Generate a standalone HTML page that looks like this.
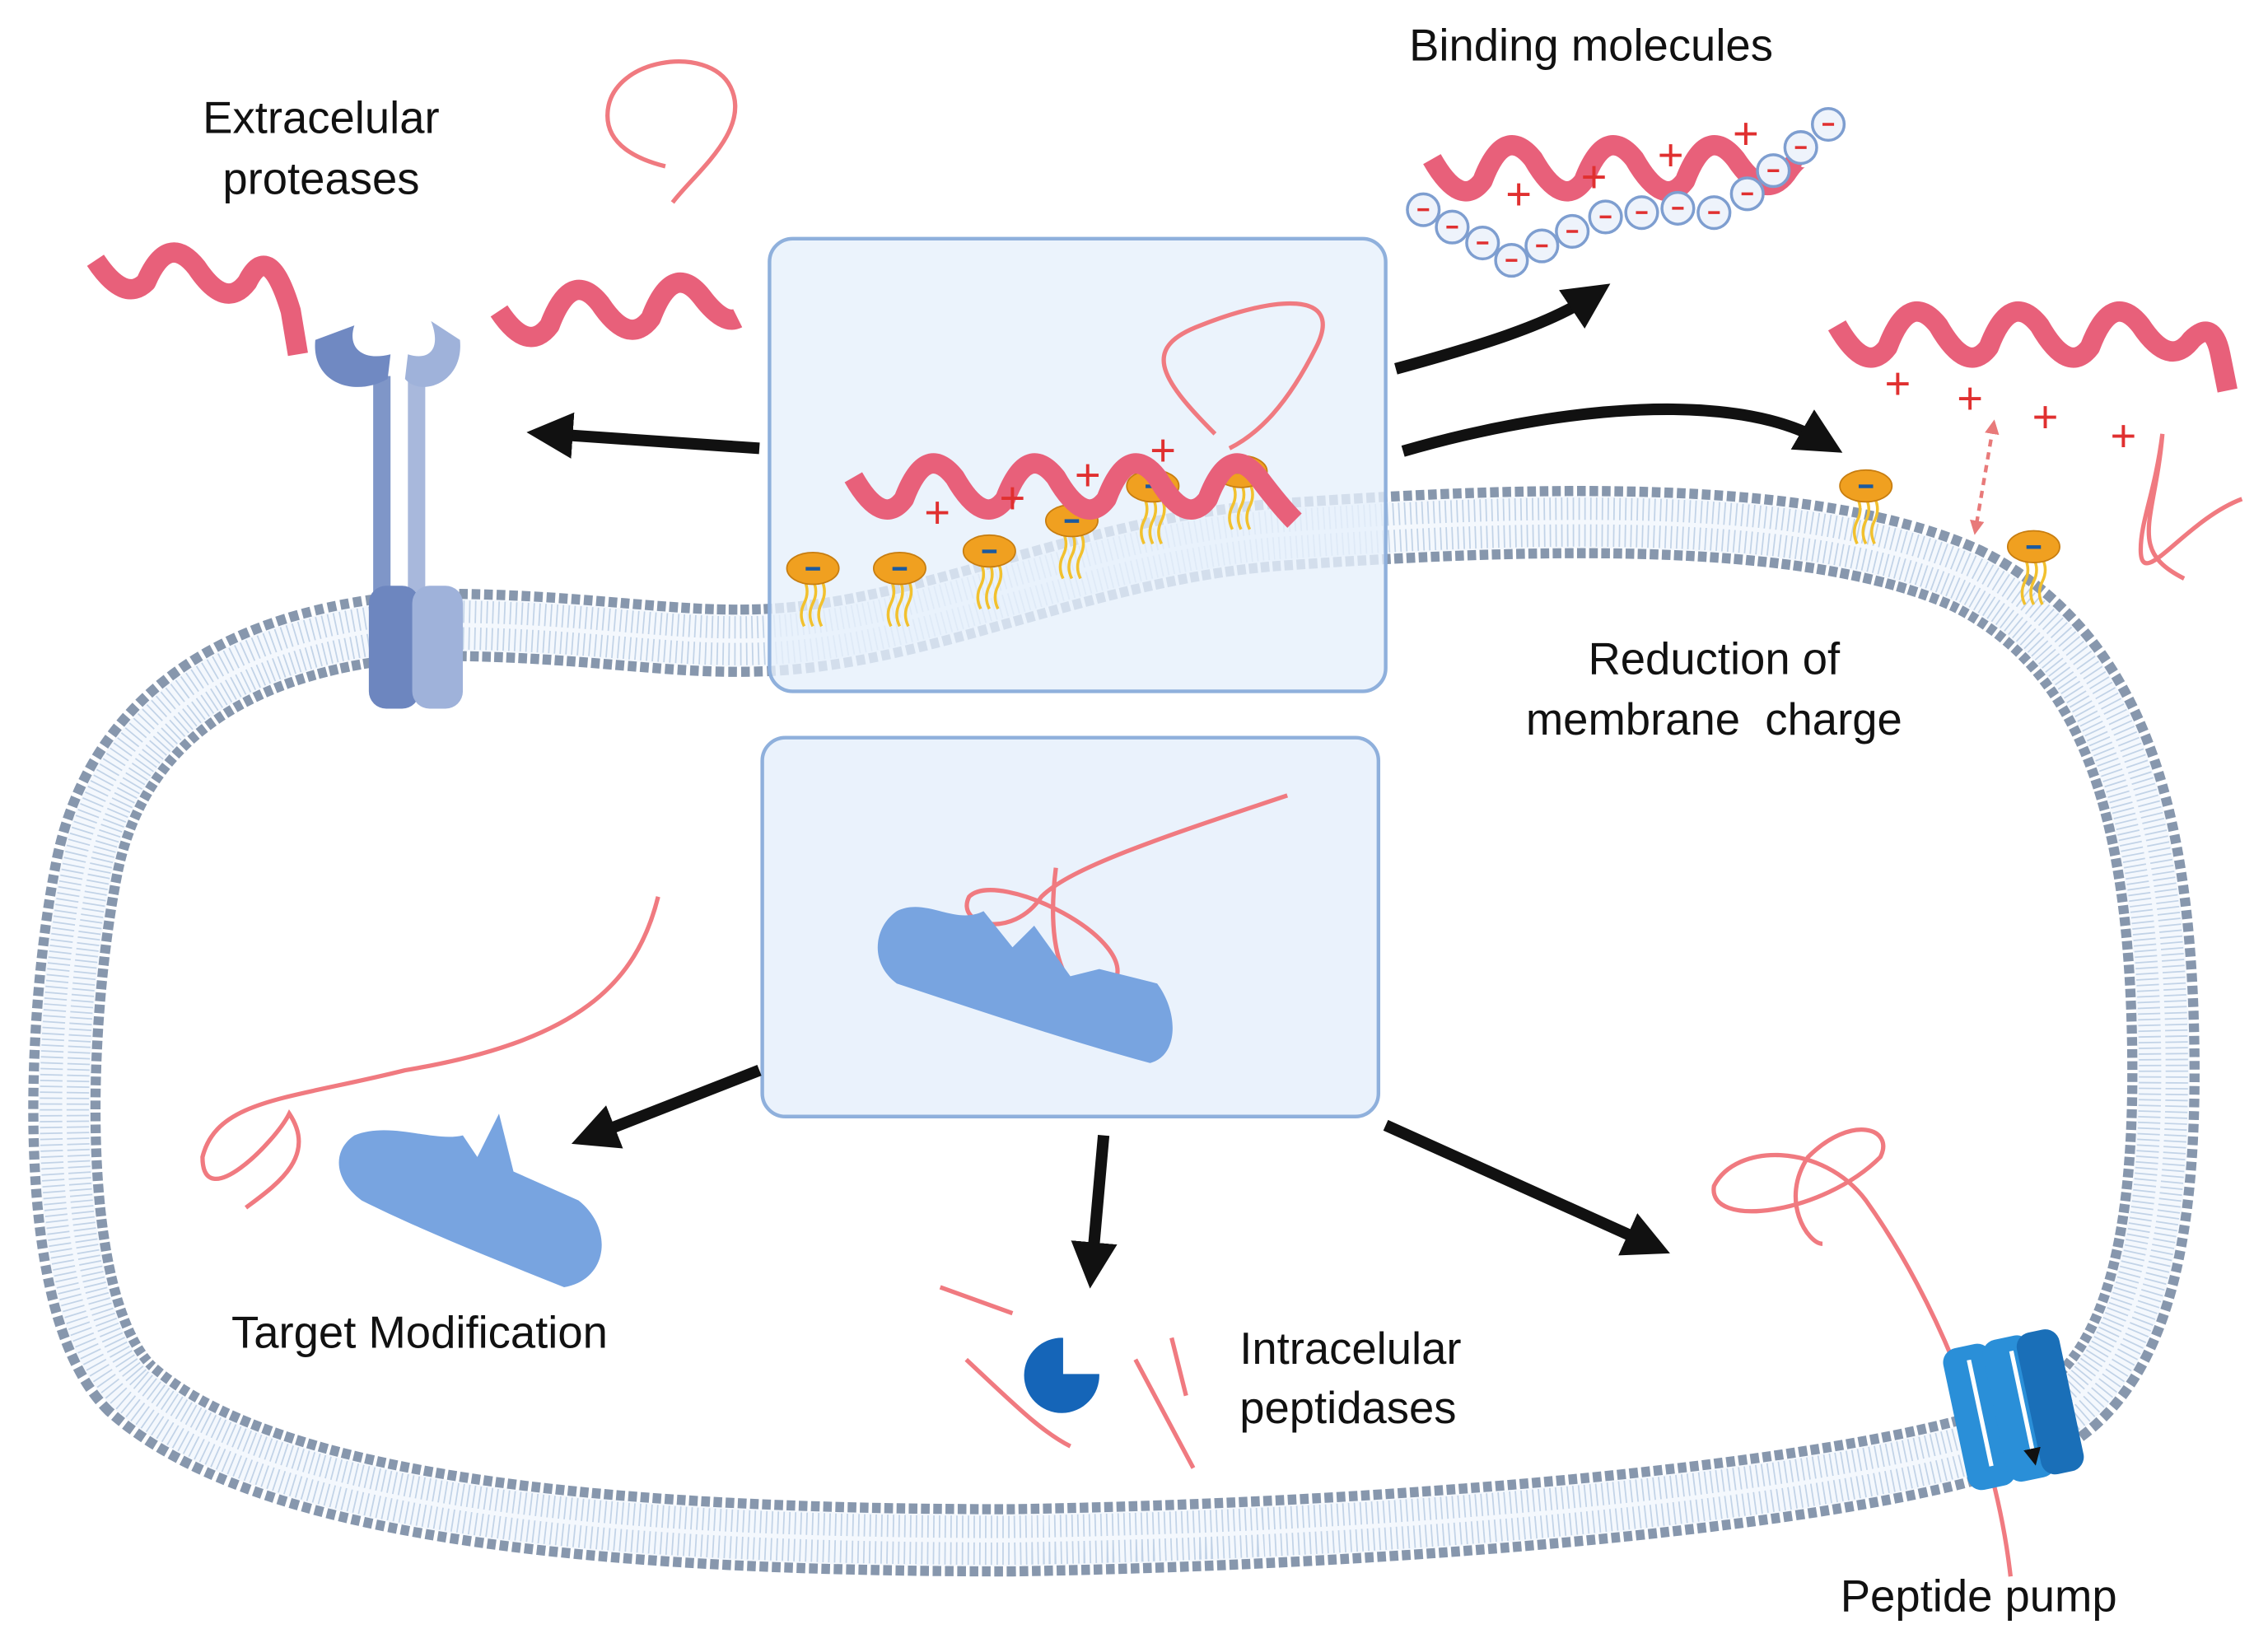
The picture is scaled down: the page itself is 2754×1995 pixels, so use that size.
<!DOCTYPE html>
<html><head><meta charset="utf-8"><style>
html,body{margin:0;padding:0;background:#fff;}
svg{display:block;}
text{font-family:"Liberation Sans",sans-serif;font-size:31px;fill:#111;}
</style></head><body>
<svg width="2754" height="1995" viewBox="0 0 1568 1136" preserveAspectRatio="none" xmlns="http://www.w3.org/2000/svg">
<defs>
<marker id="ah" viewBox="0 0 10 10" refX="5" refY="5" markerWidth="4" markerHeight="4" orient="auto"><path d="M0,0 L10,5 L0,10 Z" fill="#111"/></marker>
<marker id="ahp" viewBox="0 0 10 10" refX="5" refY="5" markerWidth="4" markerHeight="4" orient="auto-start-reverse"><path d="M0,0 L10,5 L0,10 Z" fill="#e87a7a"/></marker>
<path id="mem" d="M300,432 C420,432 480,450 560,440 C660,428 760,380 880,370 C1050,358 1250,350 1360,400 C1460,450 1490,560 1495,700 C1500,850 1480,960 1400,990 C1300,1030 1000,1060 700,1065 C400,1065 180,1040 90,960 C30,900 40,700 60,600 C80,500 160,440 300,432 Z"/>
<g id="lip"><path d="M-6,8 q4,8 0,16 q-4,8 0,16 M0,8 q4,8 0,16 q-4,8 0,16 M6,8 q4,8 0,16 q-4,8 0,16" stroke="#f2c12e" stroke-width="2" fill="none"/><ellipse cx="0" cy="0" rx="18" ry="11" fill="#f0a020" stroke="#c77d10"/><rect x="-5" y="-1" width="10" height="2.5" fill="#1a5aa0"/></g>
</defs>
<rect width="1568" height="1136" fill="#fff"/>
<!-- membrane -->
<g fill="none">
<use href="#mem" stroke="#8797ad" stroke-width="50" stroke-dasharray="6 2.5"/>
<use href="#mem" stroke="#f4f8fd" stroke-width="36"/>
<use href="#mem" stroke="#c2d3e7" stroke-width="34" stroke-dasharray="1 3"/>
<use href="#mem" stroke="#f4f8fd" stroke-width="3"/>
</g>
<!-- boxes -->
<rect x="532" y="165" width="426" height="313" rx="16" fill="#e6f0fb" fill-opacity="0.8" stroke="#8fb0dc" stroke-width="2.5"/>
<rect x="527" y="510" width="426" height="262" rx="16" fill="#e6f0fb" fill-opacity="0.85" stroke="#8fb0dc" stroke-width="2.5"/>
<!-- lipids -->
<use href="#lip" x="562" y="393"/><use href="#lip" x="622" y="393"/><use href="#lip" x="684" y="381"/><use href="#lip" x="741" y="360"/><use href="#lip" x="797" y="336"/><use href="#lip" x="858" y="326"/>
<use href="#lip" x="1290" y="336"/><use href="#lip" x="1406" y="378"/>
<!-- helices -->
<g fill="none" stroke="#e8607a" stroke-width="14" stroke-linejoin="round" stroke-linecap="butt">
<path d="M590,330 q20,35 35,15 q15,-40 35,-15 q20,35 35,15 q15,-40 35,-15 q20,35 35,15 q15,-40 35,-15 q20,35 35,15 q15,-40 35,-15 q15,20 25,30"/>
<path d="M66,180 q20,30 35,15 q15,-35 35,-10 q20,30 35,10 q15,-30 30,20 l5,30"/>
<path d="M345,215 q20,30 35,10 q15,-40 35,-15 q20,30 35,10 q15,-40 35,-15 q15,20 25,15"/>
<path d="M990,110 q20,35 35,15 q15,-40 35,-15 q20,35 35,15 q15,-40 35,-15 q20,35 35,15 q15,-40 35,-15 q20,30 35,10 q10,-15 15,-10"/>
<path d="M1270,225 q20,35 35,15 q15,-40 35,-15 q20,35 35,15 q15,-40 35,-15 q20,35 35,15 q15,-40 35,-15 q20,30 35,10 q15,-15 20,10 l5,25"/>
</g>
<g fill="none" stroke="#f07a80" stroke-width="3">
<path d="M840,300 C800,260 790,240 830,225 C880,205 930,200 910,240 C890,280 870,300 850,310"/>
<path d="M465,140 C480,120 520,90 505,60 C490,30 420,40 420,80 C420,100 440,110 460,115"/>
<path d="M1495,300 C1490,340 1480,360 1480,380 C1480,410 1510,360 1550,345 M1495,300 C1490,360 1470,380 1510,400"/>
<path d="M890,550 C800,580 740,600 720,620 C700,650 660,640 670,620 C690,600 790,650 770,680 C750,700 720,680 730,600"/>
<path d="M455,620 C440,680 400,720 280,740 C200,760 150,760 140,800 C140,840 190,790 200,770 C220,800 190,820 170,835"/>
<path d="M1390,1090 C1380,1000 1340,900 1290,830 C1260,790 1200,790 1185,820 C1180,850 1260,840 1300,800 C1310,780 1280,770 1250,800 C1230,830 1250,860 1260,860"/>
<path d="M650,890 L700,908 M668,940 C700,970 720,990 740,1000 M785,940 L825,1015 M810,925 L820,965"/>
</g>
<!-- charges -->
<g font-size="28" text-anchor="middle">
<text x="648" y="365" style="fill:#e03030">+</text><text x="700" y="355" style="fill:#e03030">+</text><text x="752" y="339" style="fill:#e03030">+</text><text x="804" y="322" style="fill:#e03030">+</text>
<text x="1050" y="145" style="fill:#e03030">+</text><text x="1102" y="133" style="fill:#e03030">+</text><text x="1155" y="118" style="fill:#e03030">+</text><text x="1207" y="103" style="fill:#e03030">+</text>
<text x="1312" y="276" style="fill:#e03030">+</text><text x="1362" y="286" style="fill:#e03030">+</text><text x="1414" y="299" style="fill:#e03030">+</text><text x="1468" y="312" style="fill:#e03030">+</text>
</g>
<path d="M1378,295 L1366,365" stroke="#e87a7a" stroke-width="2.5" stroke-dasharray="5 4" marker-start="url(#ahp)" marker-end="url(#ahp)"/>
<!-- negative bead chain -->
<g fill="#eef3fb" stroke="#7e9ed0" stroke-width="2">
<circle cx="984" cy="145" r="11"/><circle cx="1004" cy="157" r="11"/><circle cx="1025" cy="168" r="11"/><circle cx="1045" cy="180" r="11"/><circle cx="1066" cy="170" r="11"/><circle cx="1087" cy="160" r="11"/><circle cx="1110" cy="150" r="11"/><circle cx="1135" cy="147" r="11"/><circle cx="1160" cy="144" r="11"/><circle cx="1185" cy="147" r="11"/><circle cx="1208" cy="134" r="11"/><circle cx="1226" cy="118" r="11"/><circle cx="1245" cy="102" r="11"/><circle cx="1264" cy="86" r="11"/>
</g>
<g stroke="#e03030" stroke-width="2">
<path d="M980,145h8M1000,157h8M1021,168h8M1041,180h8M1062,170h8M1083,160h8M1106,150h8M1131,147h8M1156,144h8M1181,147h8M1204,134h8M1222,118h8M1241,102h8M1260,86h8"/>
</g>
<!-- receptor -->
<g>
<rect x="258" y="260" width="12" height="150" fill="#7f96c8"/><rect x="282" y="260" width="12" height="150" fill="#a8b8dc"/>
<rect x="255" y="405" width="35" height="85" rx="12" fill="#6d86bf"/><rect x="285" y="405" width="35" height="85" rx="12" fill="#9fb2da"/>
<path d="M218,235 C215,265 245,275 268,262 L270,245 C250,250 240,240 245,225 Z" fill="#7089c2"/>
<path d="M318,235 C321,265 291,275 280,262 L282,245 C298,250 305,240 298,222 Z" fill="#9fb2da"/>
</g>
<!-- enzymes -->
<path d="M620,630 C640,620 660,640 680,630 L700,655 L715,640 L740,675 L760,670 L800,680 C815,700 815,730 795,735 C740,720 680,700 620,680 C600,665 605,640 620,630 Z" fill="#78a4e0"/>
<path d="M245,785 C270,775 300,790 320,785 L330,800 L345,770 L355,810 L400,830 C425,850 420,885 390,890 C340,870 290,850 250,830 C230,815 230,795 245,785 Z" fill="#78a4e0"/>
<path d="M735,925 A26,26 0 1,0 760,950 L735,950 Z" fill="#1565b8"/>
<!-- pump -->
<g transform="rotate(-12 1390 970)">
<rect x="1350" y="925" width="34" height="100" rx="10" fill="#2a8fd8"/><rect x="1378" y="925" width="34" height="100" rx="10" fill="#2a8fd8"/><rect x="1402" y="925" width="30" height="100" rx="10" fill="#1a6fb8"/>
<path d="M1368,935 V1010 M1398,935 V1010" stroke="#fff" stroke-width="3" marker-end="url(#ah)"/>
</g>
<!-- arrows -->
<g stroke="#111" stroke-width="8" fill="none" marker-end="url(#ah)">
<path d="M525,310 L380,300"/>
<path d="M965,255 C1020,240 1070,225 1100,205"/>
<path d="M970,312 C1080,280 1200,270 1260,305"/>
<path d="M525,740 L410,785"/>
<path d="M763,785 L755,875"/>
<path d="M958,778 L1140,860"/>
</g>
<!-- labels -->
<text x="222" y="92" text-anchor="middle">Extracelular</text>
<text x="222" y="134" text-anchor="middle">proteases</text>
<text x="1100" y="42" text-anchor="middle">Binding molecules</text>
<text x="1185" y="466" text-anchor="middle">Reduction of</text>
<text x="1185" y="508" text-anchor="middle" xml:space="preserve">membrane  charge</text>
<text x="160" y="932">Target Modification</text>
<text x="857" y="943">Intracelular</text>
<text x="857" y="984">peptidases</text>
<text x="1368" y="1114" text-anchor="middle">Peptide pump</text>
</svg>
</body></html>
